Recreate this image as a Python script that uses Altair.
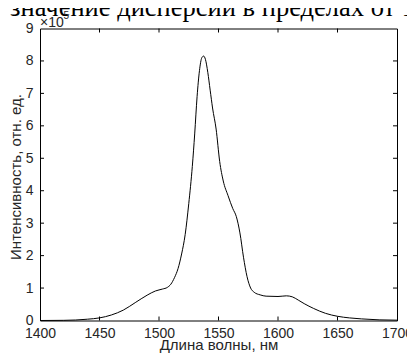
import altair as alt
import pandas as pd

# Data (wavelength in nm, intensity in units of 1e5)
wavelength = [1400, 1420, 1430, 1440, 1450, 1460, 1470, 1480, 1490, 1497, 1503, 1507,
              1510, 1513, 1516, 1519, 1522, 1525, 1528, 1530, 1532, 1534, 1536, 1537.5,
              1539, 1541, 1543, 1545, 1548, 1551, 1554, 1558, 1562, 1565, 1568, 1571,
              1574, 1577, 1580, 1585, 1590, 1600, 1607, 1612, 1617, 1622, 1630, 1640,
              1650, 1660, 1670, 1685, 1700]
intensity = [0.0, 0.005, 0.015, 0.04, 0.08, 0.17, 0.32, 0.55, 0.78, 0.91, 0.97, 1.02,
             1.12, 1.32, 1.6, 2.05, 2.65, 3.6, 4.75, 5.75, 6.9, 7.7, 8.1, 8.15,
             8.05, 7.65, 7.1, 6.55, 5.9, 4.9, 4.3, 3.85, 3.45, 3.2, 2.7, 1.95,
             1.35, 1.0, 0.87, 0.79, 0.75, 0.74, 0.76, 0.73, 0.63, 0.52, 0.37, 0.22,
             0.13, 0.08, 0.05, 0.02, 0.01]

x_ticks = [1400, 1450, 1500, 1550, 1600, 1650, 1700]
y_ticks = [0, 1, 2, 3, 4, 5, 6, 7, 8, 9]
inner_x = [1450, 1500, 1550, 1600, 1650]
inner_y = [1, 2, 3, 4, 5, 6, 7, 8]

x_title = "Длина волны, нм"
y_title = "Интенсивность, отн. ед."
exp_base = "×10"
exp_power = "5"
header_text = "значение дисперсии в пределах от 1"

W, H = 357, 292
TL = 4
FONT = "Liberation Sans"
TXT = "#262626"

df = pd.DataFrame({"wl": wavelength, "I": intensity})
xs = alt.Scale(domain=[1400, 1700], nice=False, zero=False)
ys = alt.Scale(domain=[0, 9], nice=False)

x_axis = alt.Axis(
    values=x_ticks, title=x_title, format="d", ticks=False, domain=False, grid=False,
    labelFlush=False, labelOverlap=False,
    labelPadding=6, labelFontSize=14, labelFont=FONT, labelColor=TXT,
    titleFontSize=15, titleFont=FONT, titleFontWeight="normal", titleColor=TXT,
    titleY=28.5, titleBaseline="alphabetic", titleX=W / 2, titleAlign="center")
y_axis = alt.Axis(
    values=y_ticks, title=y_title, format="d", ticks=False, domain=False, grid=False,
    labelFlush=False, labelOverlap=False,
    labelPadding=7, labelFontSize=14, labelFont=FONT, labelColor=TXT,
    titleFontSize=15, titleFont=FONT, titleFontWeight="normal", titleColor=TXT,
    titleX=-25, titleY=H / 2 + 2, titleAngle=270, titleAlign="center", titleBaseline="middle")

line = alt.Chart(df).mark_line(color="black", strokeWidth=1, interpolate="monotone").encode(
    x=alt.X("wl:Q", scale=xs, axis=x_axis),
    y=alt.Y("I:Q", scale=ys, axis=y_axis),
)

tx = pd.DataFrame({"wl": inner_x})
ty = pd.DataFrame({"I": inner_y})

bottom = alt.Chart(tx).mark_rule(color="black", strokeWidth=1).encode(
    x=alt.X("wl:Q", scale=xs, axis=x_axis), y=alt.value(H), y2=alt.value(H - TL))
top = alt.Chart(tx).mark_rule(color="black", strokeWidth=1).encode(
    x=alt.X("wl:Q", scale=xs, axis=x_axis), y=alt.value(0), y2=alt.value(TL))
left = alt.Chart(ty).mark_rule(color="black", strokeWidth=1).encode(
    y=alt.Y("I:Q", scale=ys, axis=y_axis), x=alt.value(0), x2=alt.value(TL))
right = alt.Chart(ty).mark_rule(color="black", strokeWidth=1).encode(
    y=alt.Y("I:Q", scale=ys, axis=y_axis), x=alt.value(W), x2=alt.value(W - TL))

edf = pd.DataFrame({"b": [exp_base], "p": [exp_power]})
t_base = alt.Chart(edf).mark_text(align="left", baseline="alphabetic", fontSize=14,
                                  font=FONT, color=TXT).encode(
    x=alt.value(0), y=alt.value(-2), text="b:N")
t_pow = alt.Chart(edf).mark_text(align="left", baseline="alphabetic", fontSize=10,
                                 font=FONT, color=TXT).encode(
    x=alt.value(23.5), y=alt.value(-10), text="p:N")

hdr = alt.Chart(pd.DataFrame({"h": [header_text]})).mark_text(
    align="left", baseline="alphabetic", fontSize=26.5, font="Liberation Serif", color="black").encode(
    x=alt.value(-30), y=alt.value(-12.5), text="h:N")

chart = alt.layer(line, bottom, top, left, right, t_base, t_pow, hdr).properties(
    width=W, height=H,
    autosize=alt.AutoSizeParams(type="none"),
    padding={"left": 32, "top": 20.5, "right": 10, "bottom": 33},
    background="white",
).configure_view(stroke="black", strokeWidth=1)

chart.save("out.html", embed_options={"renderer": "svg", "actions": False})
